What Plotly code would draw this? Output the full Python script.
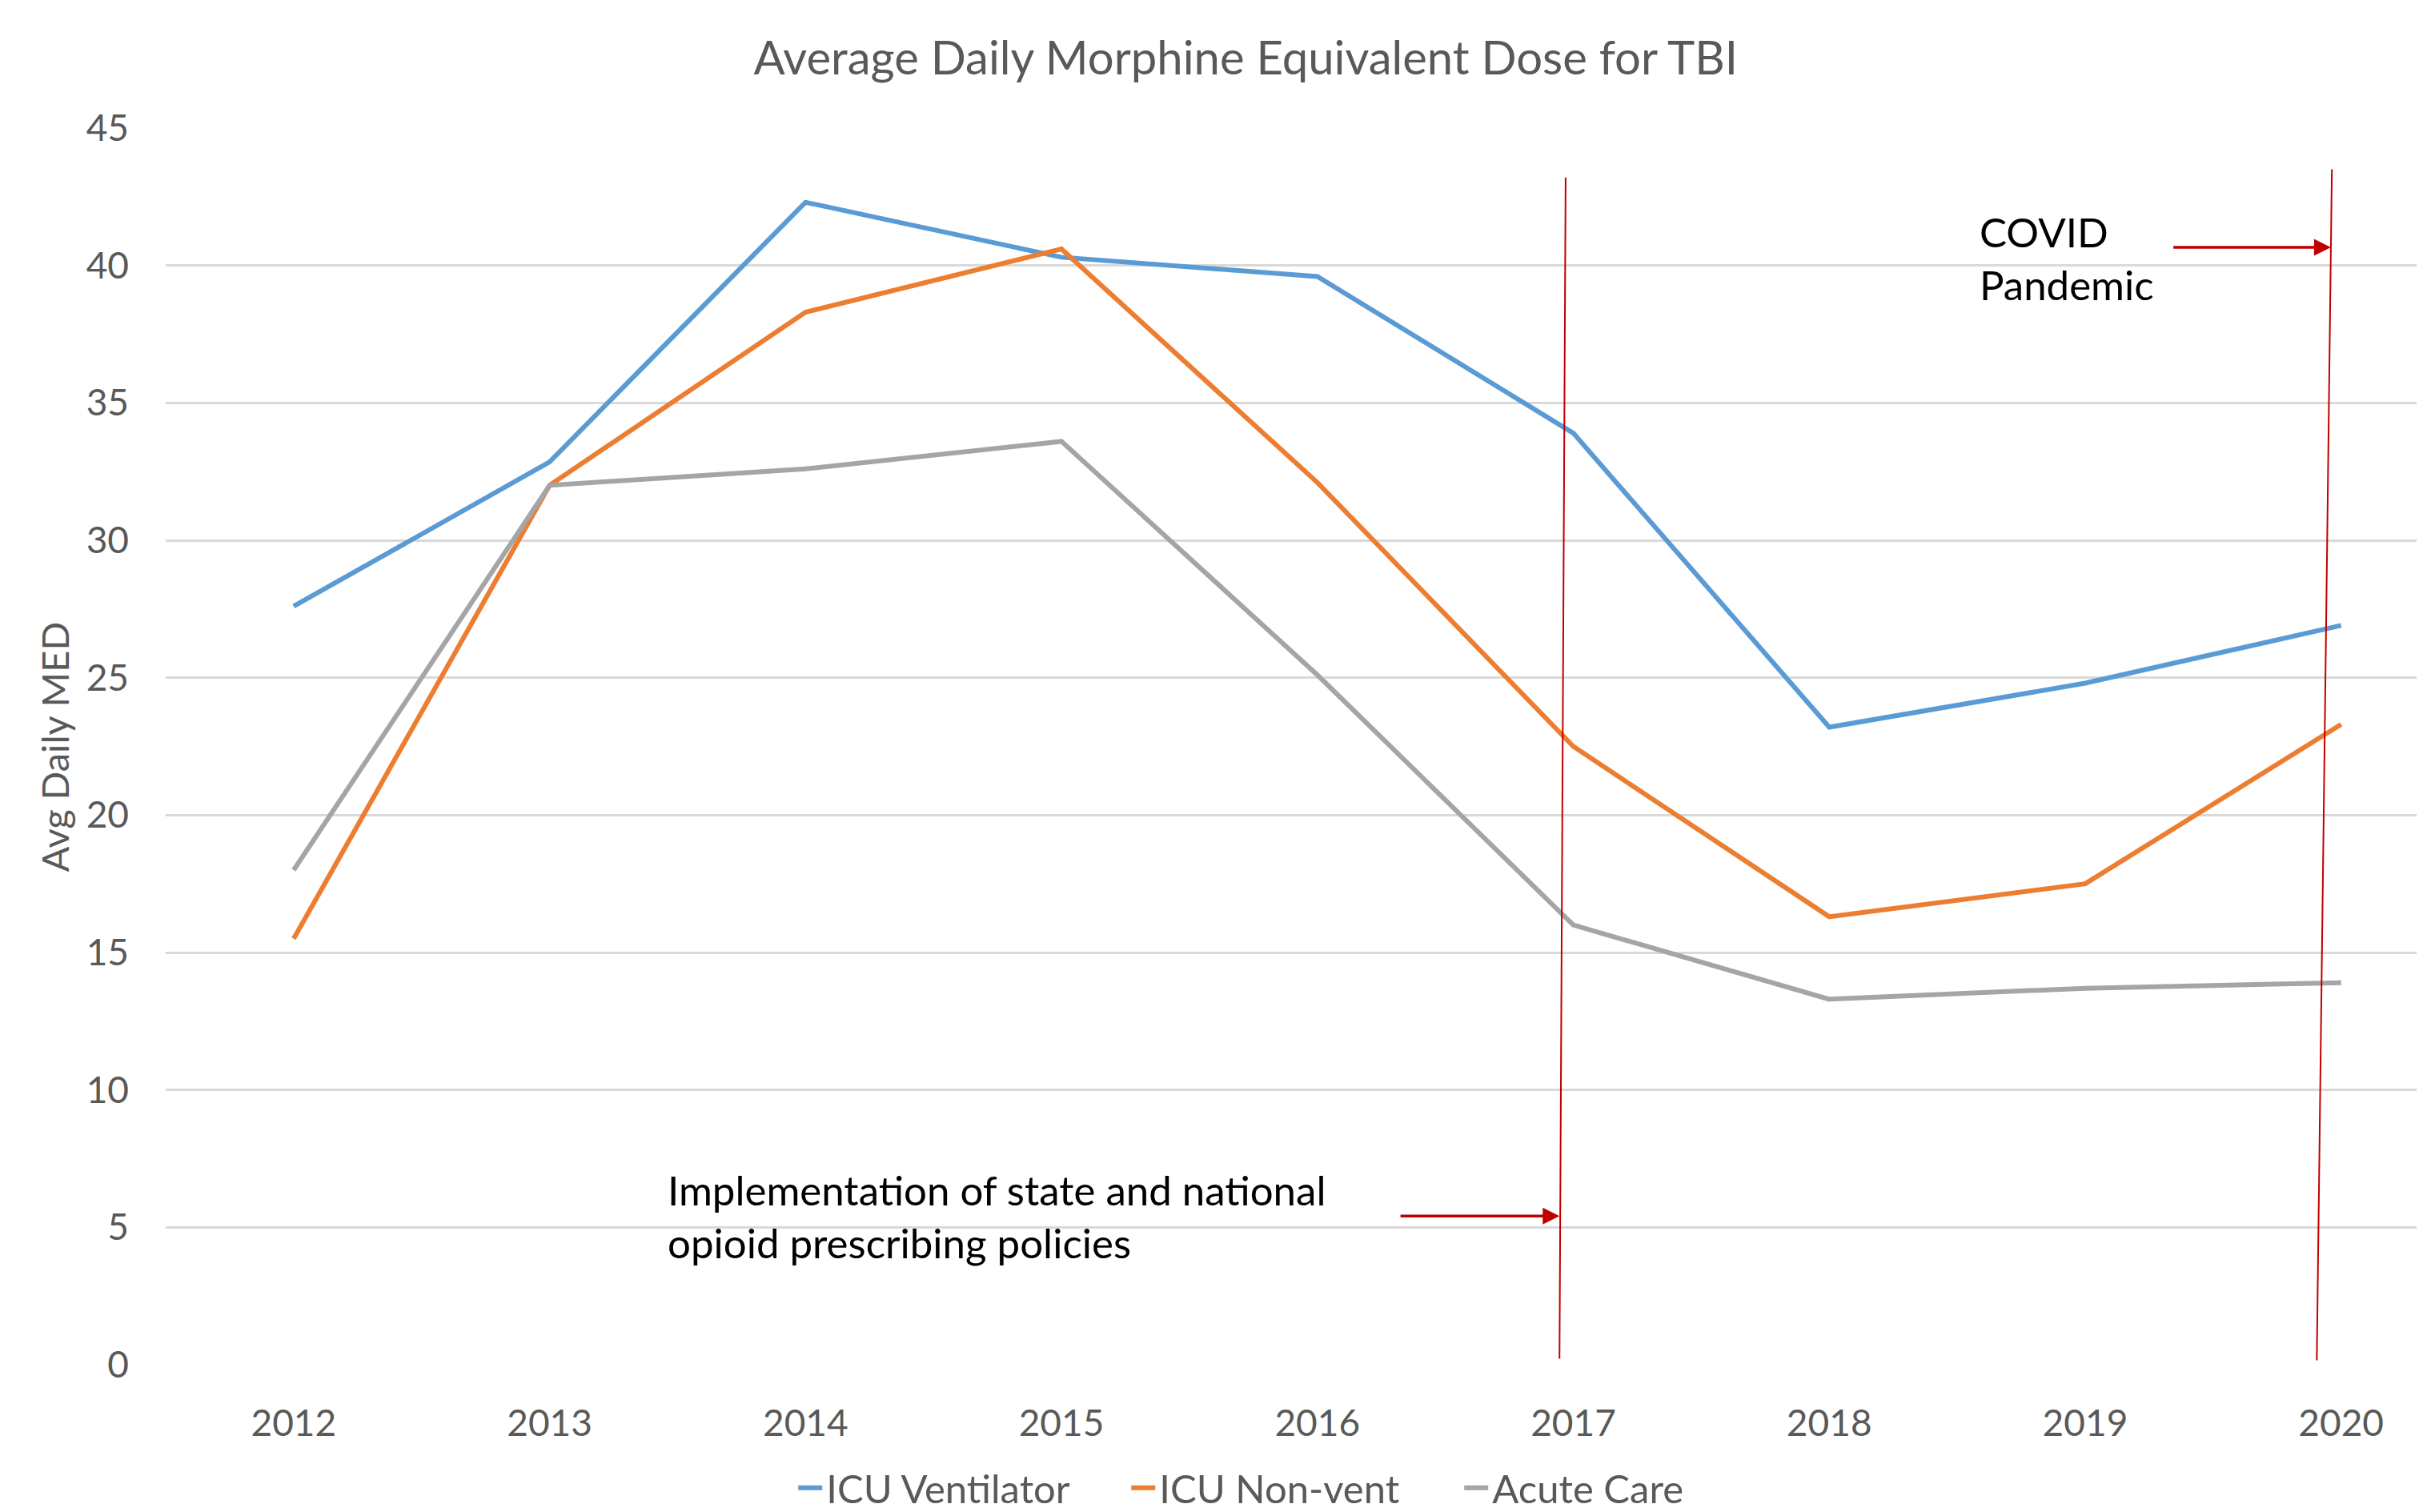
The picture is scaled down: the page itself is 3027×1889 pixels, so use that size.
import plotly.graph_objects as go

years = ["2012", "2013", "2014", "2015", "2016", "2017", "2018", "2019", "2020"]
icu_vent = [27.6, 32.85, 42.3, 40.3, 39.6, 33.9, 23.2, 24.8, 26.9]
icu_nonvent = [15.5, 32.0, 38.3, 40.6, 32.1, 22.5, 16.3, 17.5, 23.3]
acute_care = [18.0, 32.0, 32.6, 33.6, 25.1, 16.0, 13.3, 13.7, 13.9]
y_ticks = [0, 5, 10, 15, 20, 25, 30, 35, 40, 45]

FONT = "Lato, 'Open Sans', sans-serif"
GRAY_TXT = "#595959"

# page body has an 8px default margin, so the figure is 8px smaller
W, H = 3019, 1881

xi = list(range(len(years)))

fig = go.Figure()
for name, vals, col in [("ICU Ventilator", icu_vent, "#5B9BD5"),
                        ("ICU Non-vent", icu_nonvent, "#ED7D31"),
                        ("Acute Care", acute_care, "#A5A5A5")]:
    fig.add_trace(go.Scatter(x=xi, y=vals, mode="lines", name=name,
                             line=dict(color=col, width=6)))

RED = "#C00000"
# vertical red marker lines
fig.add_shape(type="line", xref="x", yref="y", x0=4.97, y0=43.2, x1=4.946, y1=0.22,
              line=dict(color=RED, width=2))
fig.add_shape(type="line", xref="x", yref="y", x0=7.964, y0=43.5, x1=7.905, y1=0.16,
              line=dict(color=RED, width=2))

# arrows
fig.add_annotation(x=4.946, y=5.41, ax=4.32, ay=5.41, xref="x", yref="y", axref="x", ayref="y",
                   showarrow=True, arrowhead=2, arrowsize=1.2, arrowwidth=3.5, arrowcolor=RED, text="")
fig.add_annotation(x=7.96, y=40.66, ax=7.34, ay=40.66, xref="x", yref="y", axref="x", ayref="y",
                   showarrow=True, arrowhead=2, arrowsize=1.2, arrowwidth=3.5, arrowcolor=RED, text="")

# text annotations
fig.add_annotation(x=1.455, y=5.41, xref="x", yref="y", xanchor="left", yanchor="middle",
                   align="left", showarrow=False,
                   text="Implementation of state and national<br>opioid prescribing policies",
                   font=dict(family=FONT, size=51, color="black"))
fig.add_annotation(x=6.58, y=40.27, xref="x", yref="y", xanchor="left", yanchor="middle",
                   align="left", showarrow=False,
                   text="COVID<br>Pandemic",
                   font=dict(family=FONT, size=51, color="black"))

# y axis title
fig.add_annotation(x=-0.0493, y=0.5, xref="paper", yref="paper", textangle=-90,
                   xanchor="center", yanchor="middle",
                   showarrow=False, text="Avg Daily MED",
                   font=dict(family=FONT, size=47, color=GRAY_TXT))

fig.update_layout(
    width=W, height=H,
    paper_bgcolor="white", plot_bgcolor="white",
    margin=dict(l=199, r=0, t=152, b=184),
    title=dict(text="Average Daily Morphine Equivalent Dose for TBI",
               x=0.5128, xref="container", y=1 - 65 / H, yref="container",
               xanchor="center", yanchor="middle",
               font=dict(family=FONT, size=58, color=GRAY_TXT)),
    xaxis=dict(range=[-0.5, 8.32], tickvals=xi, ticktext=years, showgrid=False,
               zeroline=False, showline=False, ticks="", ticklabelstandoff=42,
               tickfont=dict(family=FONT, size=46, color=GRAY_TXT)),
    yaxis=dict(range=[0, 45], tickvals=y_ticks, showgrid=True, gridcolor="#D9D9D9",
               gridwidth=2.5, zeroline=False, showline=False, ticks="",
               ticklabelstandoff=45,
               tickfont=dict(family=FONT, size=46, color=GRAY_TXT)),
    legend=dict(orientation="h", xref="container", yref="container",
                x=0.5327, y=0.016, xanchor="center", yanchor="middle",
                font=dict(family=FONT, size=49, color=GRAY_TXT),
                itemwidth=30, entrywidth=371, entrywidthmode="pixels",
                tracegroupgap=0),
    showlegend=True,
)

fig.write_html("out.html")
